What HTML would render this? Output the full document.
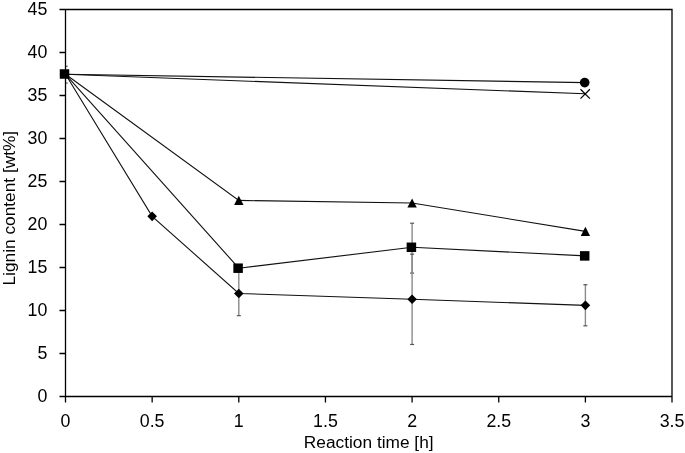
<!DOCTYPE html><html><head><meta charset="utf-8"><style>html,body{margin:0;padding:0;background:#fff;}svg{display:block;will-change:transform}text{font-family:"Liberation Sans",sans-serif;fill:#000}</style></head><body>
<svg width="685" height="453" viewBox="0 0 685 453">
<line x1="238.80" y1="270.94" x2="238.80" y2="315.66" stroke="#8a8a8a" stroke-width="1.4"/>
<line x1="236.80" y1="315.66" x2="240.80" y2="315.66" stroke="#555" stroke-width="1.2"/>
<line x1="236.80" y1="270.94" x2="240.80" y2="270.94" stroke="#555" stroke-width="1.2"/>
<line x1="412.10" y1="223.21" x2="412.10" y2="273.09" stroke="#8a8a8a" stroke-width="1.4"/>
<line x1="410.10" y1="273.09" x2="414.10" y2="273.09" stroke="#555" stroke-width="1.2"/>
<line x1="410.10" y1="223.21" x2="414.10" y2="223.21" stroke="#555" stroke-width="1.2"/>
<line x1="412.10" y1="254.17" x2="412.10" y2="344.47" stroke="#8a8a8a" stroke-width="1.4"/>
<line x1="410.10" y1="344.47" x2="414.10" y2="344.47" stroke="#555" stroke-width="1.2"/>
<line x1="410.10" y1="254.17" x2="414.10" y2="254.17" stroke="#555" stroke-width="1.2"/>
<line x1="585.40" y1="284.70" x2="585.40" y2="325.81" stroke="#8a8a8a" stroke-width="1.4"/>
<line x1="583.40" y1="325.81" x2="587.40" y2="325.81" stroke="#555" stroke-width="1.2"/>
<line x1="583.40" y1="284.70" x2="587.40" y2="284.70" stroke="#555" stroke-width="1.2"/>
<polyline points="65.50,74.30 585.40,82.60" fill="none" stroke="#111" stroke-width="1.1"/>
<polyline points="65.50,74.30 585.40,93.78" fill="none" stroke="#111" stroke-width="1.1"/>
<polyline points="65.50,74.30 238.80,200.42 412.10,203.00 585.40,231.38" fill="none" stroke="#111" stroke-width="1.1"/>
<polyline points="65.50,74.30 238.80,268.19 412.10,247.29 585.40,255.89" fill="none" stroke="#111" stroke-width="1.1"/>
<polyline points="65.50,74.30 152.15,216.33 238.80,293.47 412.10,299.32 585.40,305.34" fill="none" stroke="#111" stroke-width="1.1"/>
<line x1="65.50" y1="83.03" x2="67.70" y2="83.03" stroke="#555" stroke-width="1.2"/>
<line x1="65.50" y1="66.26" x2="67.70" y2="66.26" stroke="#555" stroke-width="1.2"/>
<path d="M59.5,9.5 H672 V402.5 M672,396.5 H59.5 M65.5,9.5 V402.5" fill="none" stroke="#000" stroke-width="1.3"/>
<path d="M59.5,353.50 H65.5 M59.5,310.50 H65.5 M59.5,267.50 H65.5 M59.5,224.50 H65.5 M59.5,181.50 H65.5 M59.5,138.50 H65.5 M59.5,95.50 H65.5 M59.5,52.50 H65.5 M152.15,396.5 V402.5 M238.80,396.5 V402.5 M325.45,396.5 V402.5 M412.10,396.5 V402.5 M498.75,396.5 V402.5 M585.40,396.5 V402.5" fill="none" stroke="#000" stroke-width="1.3"/>
<circle cx="584.70" cy="82.60" r="4.85" fill="#000"/>
<path d="M580.50,89.28 L589.90,98.68 M589.90,89.28 L580.50,98.68" stroke="#000" stroke-width="1.2"/>
<path d="M238.80,195.82 L243.50,205.02 L234.10,205.02Z" fill="#000"/>
<path d="M412.10,198.40 L416.80,207.60 L407.40,207.60Z" fill="#000"/>
<path d="M585.40,226.78 L590.10,235.98 L580.70,235.98Z" fill="#000"/>
<rect x="59.75" y="69.25" width="9.5" height="9.5" fill="#000"/>
<rect x="233.35" y="263.44" width="9.5" height="9.5" fill="#000"/>
<rect x="406.65" y="242.54" width="9.5" height="9.5" fill="#000"/>
<rect x="579.95" y="251.14" width="9.5" height="9.5" fill="#000"/>
<path d="M152.15,211.53 L156.95,216.33 L152.15,221.13 L147.35,216.33Z" fill="#000"/>
<path d="M238.80,288.67 L243.60,293.47 L238.80,298.27 L234.00,293.47Z" fill="#000"/>
<path d="M412.10,294.52 L416.90,299.32 L412.10,304.12 L407.30,299.32Z" fill="#000"/>
<path d="M585.40,300.54 L590.20,305.34 L585.40,310.14 L580.60,305.34Z" fill="#000"/>
<text transform="translate(47.4,402.30) scale(1,1.03)" text-anchor="end" font-size="17.8">0</text>
<text transform="translate(47.4,359.30) scale(1,1.03)" text-anchor="end" font-size="17.8">5</text>
<text transform="translate(47.4,316.30) scale(1,1.03)" text-anchor="end" font-size="17.8">10</text>
<text transform="translate(47.4,273.30) scale(1,1.03)" text-anchor="end" font-size="17.8">15</text>
<text transform="translate(47.4,230.30) scale(1,1.03)" text-anchor="end" font-size="17.8">20</text>
<text transform="translate(47.4,187.30) scale(1,1.03)" text-anchor="end" font-size="17.8">25</text>
<text transform="translate(47.4,144.30) scale(1,1.03)" text-anchor="end" font-size="17.8">30</text>
<text transform="translate(47.4,101.30) scale(1,1.03)" text-anchor="end" font-size="17.8">35</text>
<text transform="translate(47.4,58.30) scale(1,1.03)" text-anchor="end" font-size="17.8">40</text>
<text transform="translate(47.4,15.30) scale(1,1.03)" text-anchor="end" font-size="17.8">45</text>
<text transform="translate(65.50,427.3) scale(1,1.03)" text-anchor="middle" font-size="17.8">0</text>
<text transform="translate(152.15,427.3) scale(1,1.03)" text-anchor="middle" font-size="17.8">0.5</text>
<text transform="translate(238.80,427.3) scale(1,1.03)" text-anchor="middle" font-size="17.8">1</text>
<text transform="translate(325.45,427.3) scale(1,1.03)" text-anchor="middle" font-size="17.8">1.5</text>
<text transform="translate(412.10,427.3) scale(1,1.03)" text-anchor="middle" font-size="17.8">2</text>
<text transform="translate(498.75,427.3) scale(1,1.03)" text-anchor="middle" font-size="17.8">2.5</text>
<text transform="translate(585.40,427.3) scale(1,1.03)" text-anchor="middle" font-size="17.8">3</text>
<text transform="translate(672.05,427.3) scale(1,1.03)" text-anchor="middle" font-size="17.8">3.5</text>
<text transform="translate(368.7,447.6) scale(1,1.0)" text-anchor="middle" font-size="17.3">Reaction time [h]</text>
<text transform="translate(14.8,208.2) rotate(-90) scale(1,1.0)" text-anchor="middle" font-size="17.3">Lignin content [wt%]</text>
</svg></body></html>
